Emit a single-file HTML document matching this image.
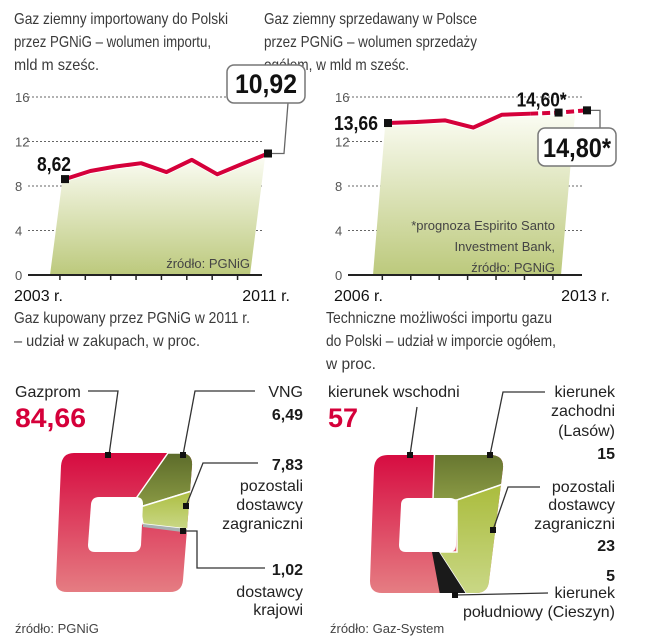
<!DOCTYPE html>
<html><head><meta charset="utf-8"><style>
html,body{margin:0;padding:0;background:#fff;}
svg{display:block;font-family:"Liberation Sans",sans-serif;}
.t{font-size:16px;fill:#3a3a3a;}
.lab{font-size:16px;fill:#222;}
.b{font-weight:bold;fill:#1a1a1a;}
.tick{font-size:13px;fill:#555;}
.src{font-size:13px;fill:#444;}
</style></head><body>
<svg id="root" width="645" height="640" viewBox="0 0 645 640" xmlns="http://www.w3.org/2000/svg">
<defs>
<linearGradient id="gfill" x1="0" y1="0" x2="0" y2="1"><stop offset="0" stop-color="#fbfcf3"/><stop offset="1" stop-color="#bcc97c"/></linearGradient>
<linearGradient id="gred" x1="0" y1="0" x2="0" y2="1"><stop offset="0" stop-color="#d5003a"/><stop offset="1" stop-color="#e68386"/></linearGradient>
<linearGradient id="gdark" x1="0" y1="0" x2="0" y2="1"><stop offset="0" stop-color="#5c6b2a"/><stop offset="1" stop-color="#8a9a44"/></linearGradient>
<linearGradient id="glight" x1="0" y1="0" x2="0" y2="1"><stop offset="0" stop-color="#a9bb3a"/><stop offset="1" stop-color="#cbd98a"/></linearGradient>
</defs>

<g class="t">
<text x="14" y="24" textLength="214" lengthAdjust="spacingAndGlyphs">Gaz ziemny importowany do Polski</text>
<text x="14" y="47" textLength="197" lengthAdjust="spacingAndGlyphs">przez PGNiG – wolumen importu,</text>
<text x="14" y="70" textLength="85" lengthAdjust="spacingAndGlyphs">mld m sześc.</text>
</g>
<g class="t">
<text x="264" y="24" textLength="213" lengthAdjust="spacingAndGlyphs">Gaz ziemny sprzedawany w Polsce</text>
<text x="264" y="47" textLength="213" lengthAdjust="spacingAndGlyphs">przez PGNiG – wolumen sprzedaży</text>
<text x="264" y="70" textLength="145" lengthAdjust="spacingAndGlyphs">ogółem, w mld m sześc.</text>
</g>

<g id="c1"></g>
<g id="c2"></g>

<g class="t">
<text x="14" y="323" textLength="236" lengthAdjust="spacingAndGlyphs">Gaz kupowany przez PGNiG w 2011 r.</text>
<text x="14" y="346" textLength="186" lengthAdjust="spacingAndGlyphs">– udział w zakupach, w proc.</text>
</g>
<g class="t">
<text x="326" y="323" textLength="226" lengthAdjust="spacingAndGlyphs">Techniczne możliwości importu gazu</text>
<text x="326" y="346" textLength="230" lengthAdjust="spacingAndGlyphs">do Polski – udział w imporcie ogółem,</text>
<text x="326" y="369" textLength="50" lengthAdjust="spacingAndGlyphs">w proc.</text>
</g>

<!-- Pie 1 -->
<g>
<clipPath id="clip1"><path d="M74,453 L180,453 Q193,453 192,466 L183,580 Q182,592 170,592 L67,592 Q55,592 56,580 L61,466 Q62,453 74,453 Z"/></clipPath>
<g clip-path="url(#clip1)">
<rect x="40" y="440" width="170" height="160" fill="url(#gred)"/>
<polygon points="137,497 168,453 205,453 205,487 140,507" fill="url(#gdark)" stroke="#fff" stroke-width="1.5"/>
<polygon points="140,507 205,487 205,531 143,524" fill="url(#glight)" stroke="#fff" stroke-width="1.5"/>
<polygon points="143,524 205,531 205,535 143,527" fill="#a7b2b2"/>
</g>
<path d="M99,497 L136,497 Q143,497 143,504 L141,545 Q140,552 133,552 L95,552 Q88,552 88,545 L91,504 Q92,497 99,497 Z" fill="#fff"/>
</g>
<g fill="none" stroke="#333" stroke-width="1.3">
<polyline points="88,391 118,391 109,455"/>
<polyline points="183,455 195,391 255,391"/>
<polyline points="186,506 203,463 258,463"/>
<polyline points="183,531 197,531 197,568 265,568"/>
</g>
<g fill="#111">
<rect x="105" y="452" width="6" height="6"/><rect x="180" y="452" width="6" height="6"/><rect x="183" y="503" width="6" height="6"/><rect x="180" y="528" width="6" height="6"/>
</g>
<text class="lab" x="15" y="397">Gazprom</text>
<text x="15" y="427" font-size="27" font-weight="bold" fill="#d5003a" textLength="71" lengthAdjust="spacingAndGlyphs">84,66</text>
<g text-anchor="end">
<text class="lab" x="303" y="397">VNG</text>
<text class="lab b" x="303" y="420">6,49</text>
<text class="lab b" x="303" y="470" font-size="18">7,83</text>
<text class="lab" x="303" y="491">pozostali</text>
<text class="lab" x="303" y="510">dostawcy</text>
<text class="lab" x="303" y="529">zagraniczni</text>
<text class="lab b" x="303" y="575" font-size="18">1,02</text>
<text class="lab" x="303" y="597">dostawcy</text>
<text class="lab" x="303" y="615">krajowi</text>
</g>
<text class="src" x="15" y="633">źródło: PGNiG</text>

<!-- Pie 2 -->
<g>
<clipPath id="clip2"><path d="M388,455 L490,455 Q504,455 503,468 L489,581 Q488,593 476,593 L382,593 Q370,593 370,581 L374,468 Q375,455 388,455 Z"/></clipPath>
<g clip-path="url(#clip2)">
<rect x="360" y="440" width="160" height="160" fill="url(#gred)"/>
<polygon points="435,440 515,440 515,480 457,500 433,500" fill="url(#gdark)" stroke="#fff" stroke-width="1.5"/>
<polygon points="439,552 457,552 457,500 515,480 515,600 470,600" fill="url(#glight)" stroke="#fff" stroke-width="1.5"/>
<polygon points="432,552 439,552 470,600 441,600" fill="#1a1a1a"/>
</g>
<path d="M408,498 L450,498 Q457,498 457,505 L456,545 Q456,552 449,552 L406,552 Q399,552 399,545 L401,505 Q401,498 408,498 Z" fill="#fff"/>
</g>
<g fill="none" stroke="#333" stroke-width="1.3">
<polyline points="417,407 410,455"/>
<polyline points="490,455 503,392 545,392"/>
<polyline points="493,530 508,487 540,487"/>
<polyline points="455,595 548,593"/>
</g>
<g fill="#111">
<rect x="407" y="452" width="6" height="6"/><rect x="487" y="452" width="6" height="6"/><rect x="490" y="527" width="6" height="6"/><rect x="452" y="592" width="6" height="6"/>
</g>
<text class="lab" x="328" y="397">kierunek wschodni</text>
<text x="328" y="427" font-size="27" font-weight="bold" fill="#d5003a">57</text>
<g text-anchor="end">
<text class="lab" x="615" y="397">kierunek</text>
<text class="lab" x="615" y="416">zachodni</text>
<text class="lab" x="615" y="436">(Lasów)</text>
<text class="lab b" x="615" y="459" font-size="18">15</text>
<text class="lab" x="615" y="492">pozostali</text>
<text class="lab" x="615" y="510">dostawcy</text>
<text class="lab" x="615" y="529">zagraniczni</text>
<text class="lab b" x="615" y="551" font-size="18">23</text>
<text class="lab b" x="615" y="581" font-size="18">5</text>
<text class="lab" x="615" y="598">kierunek</text>
<text class="lab" x="615" y="617">południowy (Cieszyn)</text>
</g>
<text class="src" x="330" y="633">źródło: Gaz-System</text>
</svg>

<script>
const yTicks = [0, 4, 8, 12, 16];
const imp_years = ["2003","2004","2005","2006","2007","2008","2009","2010","2011"];
const imp_values = [8.62, 9.35, 9.75, 10.05, 9.25, 10.35, 9.05, 10.0, 10.92];
const sal_years = ["2006","2007","2008","2009","2010","2011","2012","2013"];
const sal_values = [13.66, 13.75, 13.9, 13.25, 14.4, 14.5, 14.6, 14.8];
const imp_axis_labels = ["2003 r.", "2011 r."];
const sal_axis_labels = ["2006 r.", "2013 r."];

const NS = "http://www.w3.org/2000/svg";
function mk(parent, tag, attrs){const e=document.createElementNS(NS,tag);for(const k in attrs)e.setAttribute(k,attrs[k]);parent.appendChild(e);return e;}
const Y0 = 275, YS = (275-97)/16;
function yScale(v){return Y0 - v*YS;}

function drawChart(g, ox, x0, x1, years, values, axisLabels, nForecast, fillTopInset, fillBotInset){
  const n = years.length;
  const step = (x1-x0)/(n-1);
  const xS = i => x0 + i*step;
  yTicks.forEach(t=>{
    const tx = mk(g,'text',{x:ox+15,y:yScale(t)+5,class:'tick'}); tx.textContent=t;
    
    
    if(t>0){
      const l = mk(g,'line',{x1:ox+28,x2:ox+262,y1:yScale(t),y2:yScale(t),stroke:'#666','stroke-width':1,'stroke-dasharray':'2,2'});
      
      
    }
  });
  // fill: clip last point region using insets
  const xEndTop = xS(n-1) - fillTopInset;
  const xEndBot = xS(n-1) - fillBotInset;
  let pts = `${xS(0)-15},${Y0} ${xS(0)-3},${yScale(values[0])+4} `;
  for(let i=0;i<n;i++){ if(xS(i) < xEndTop) pts += `${xS(i)},${yScale(values[i])+3} `; }
  pts += `${xEndTop},${yScale(values[n-1])+4} ${xEndBot},${Y0}`;
  const f = mk(g,'polygon',{points:pts,fill:'url(#gfill)'});
  
  
  const ax = mk(g,'line',{x1:ox+28,x2:ox+262,y1:Y0,y2:Y0,stroke:'#222','stroke-width':2});
  
  
  for(let i=0;i<n-1;i++){
    const tk = mk(g,'line',{x1:xS(i)-(step*0.2),x2:xS(i)-(step*0.2),y1:Y0,y2:Y0+5,stroke:'#222','stroke-width':1.5});
    
    
  }
  const solidN = n - nForecast;
  let d='';
  for(let i=0;i<solidN;i++){d += (i?'L':'M')+xS(i)+','+yScale(values[i]);}
  const ln = mk(g,'path',{d:d,fill:'none',stroke:'#d5003a','stroke-width':4,'stroke-linejoin':'round'});
  
  
  if(nForecast>0){
    let d2='';
    for(let i=solidN-1;i<n;i++){d2 += (i===solidN-1?'M':'L')+xS(i)+','+yScale(values[i]);}
    const l2 = mk(g,'path',{d:d2,fill:'none',stroke:'#d5003a','stroke-width':4,'stroke-dasharray':'8,4'});
    
    
  }
  const a1 = mk(g,'text',{x:ox+14,y:301,'font-size':16,fill:'#111'}); a1.textContent=axisLabels[0];
  
  
  const a2 = mk(g,'text',{x:ox+290,y:301,'font-size':16,fill:'#111','text-anchor':'end'}); a2.textContent=axisLabels[1];
  
  
  return {xS, n};
}
function fmt(v){return v.toFixed(2).replace('.',',');}
function marker(g,x,y){const r=mk(g,'rect',{x:x-4,y:y-4,width:8,height:8,fill:'#111'});
  
  }

// Chart 1
const g1 = document.getElementById('c1');
const c1 = drawChart(g1, 0, 65, 268, imp_years, imp_values, imp_axis_labels, 0, 3, 18);
{
  const s = mk(g1,'text',{x:250,y:268,class:'src','text-anchor':'end'}); s.textContent='źródło: PGNiG';
  
  
  const x0=c1.xS(0), y0=yScale(imp_values[0]);
  marker(g1,x0,y0);
  const l0 = mk(g1,'text',{x:37,y:y0-8,'font-size':20,'font-weight':'bold',fill:'#111',textLength:34,lengthAdjust:'spacingAndGlyphs'}); l0.textContent=fmt(imp_values[0]);
  
  
  const xl=c1.xS(c1.n-1), yl=yScale(imp_values[c1.n-1]);
  mk(g1,'polyline',{points:`${xl},${yl} 284,${yl} 288,103`,fill:'none',stroke:'#666','stroke-width':1.3});
  marker(g1,xl,yl);
  const bx = mk(g1,'rect',{x:227,y:65,width:78,height:38,rx:7,fill:'#fff',stroke:'#777','stroke-width':1.5});
  
  
  const lt = mk(g1,'text',{x:266,y:93,'font-size':27,'font-weight':'bold',fill:'#111','text-anchor':'middle',textLength:62,lengthAdjust:'spacingAndGlyphs'}); lt.textContent=fmt(imp_values[c1.n-1]);
  
  
}

// Chart 2
const g2 = document.getElementById('c2');
const c2 = drawChart(g2, 320, 388, 587, sal_years, sal_values, sal_axis_labels, 2, 12, 26);
{
  const lines=['*prognoza Espirito Santo','Investment Bank,','źródło: PGNiG'];
  lines.forEach((t,i)=>{const s=mk(g2,'text',{x:555,y:230+i*21,class:'src','text-anchor':'end'}); s.textContent=t;
    
    });
  const x0=c2.xS(0), y0=yScale(sal_values[0]);
  marker(g2,x0,y0);
  const l0 = mk(g2,'text',{x:334,y:y0+7,'font-size':20,'font-weight':'bold',fill:'#111',textLength:44,lengthAdjust:'spacingAndGlyphs'}); l0.textContent=fmt(sal_values[0]);
  
  
  const xm=c2.xS(c2.n-2), ym=yScale(sal_values[c2.n-2]);
  marker(g2,xm,ym);
  const lm = mk(g2,'text',{x:xm+8,y:ym-6,'font-size':20,'font-weight':'bold',fill:'#111','text-anchor':'end',textLength:50,lengthAdjust:'spacingAndGlyphs'}); lm.textContent=fmt(sal_values[c2.n-2])+'*';
  
  
  const xl=c2.xS(c2.n-1), yl=yScale(sal_values[c2.n-1]);
  mk(g2,'polyline',{points:`${xl},${yl} 600,${yl} 600,128`,fill:'none',stroke:'#666','stroke-width':1.3});
  marker(g2,xl,yl);
  const bx = mk(g2,'rect',{x:538,y:128,width:78,height:38,rx:7,fill:'#fff',stroke:'#777','stroke-width':1.5});
  
  
  const lt = mk(g2,'text',{x:577,y:157,'font-size':27,'font-weight':'bold',fill:'#111','text-anchor':'middle',textLength:68,lengthAdjust:'spacingAndGlyphs'}); lt.textContent=fmt(sal_values[c2.n-1])+'*';
  
  
}
</script>
</body></html>
